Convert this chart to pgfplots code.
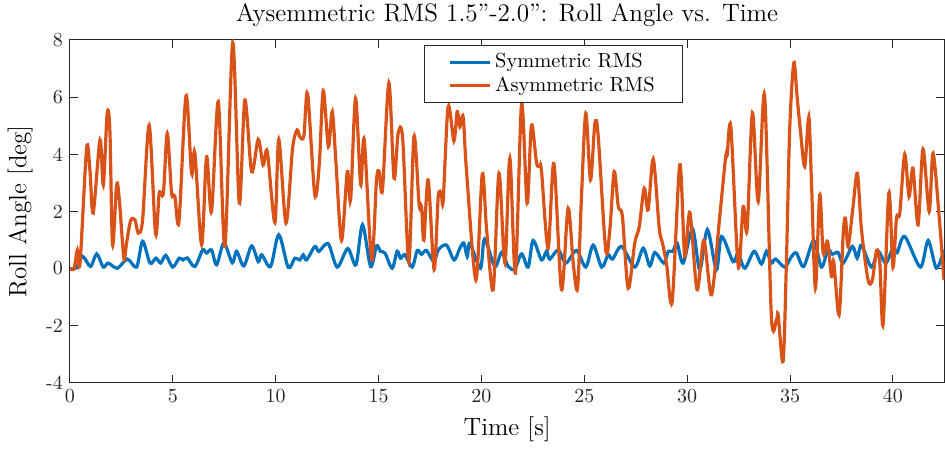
\documentclass[border=0pt]{standalone}
\usepackage{pgfplots}
\pgfplotsset{compat=1.18}
\usetikzlibrary{calc}

\definecolor{mblue}{rgb}{0,0.447,0.741}
\definecolor{morange}{rgb}{0.85,0.325,0.098}
\definecolor{axgray}{rgb}{0.15,0.15,0.15}

\begin{document}
\begin{tikzpicture}
\begin{axis}[
  scale only axis,
  width=437.5pt, height=171.5pt,
  xmin=0, xmax=42.5, ymin=-4, ymax=8,
  xtick={0,5,...,40},
  ytick={-4,-2,0,2,4,6,8},
  yticklabels={-4,-2,0,2,4,6,8},
  tick align=inside,
  major tick length=4pt,
  axis line style={axgray, line width=0.5pt},
  every tick/.style={axgray, line width=0.5pt},
  tick label style={font=\fontsize{10}{12}\selectfont, text=axgray},
  title={Aysemmetric RMS 1.5''-2.0'': Roll Angle vs. Time},
  title style={font=\fontsize{12.6}{14}\selectfont, yshift=-3pt},
  xlabel={Time [s]},
  ylabel={Roll Angle [deg]},
  label style={font=\fontsize{12.5}{14}\selectfont},
  legend cell align=left,
  legend style={at={(rel axis cs:0.4046,0.9854)}, anchor=north west,
    draw=axgray, line width=0.5pt, font=\fontsize{10.2}{12}\selectfont,
    inner xsep=12pt, inner ysep=2pt, row sep=-1pt},
  legend image code/.code={\draw[#1, line width=1.5pt] (0pt,0pt) -- (20pt,0pt);},
]
\addplot[mblue, line width=1.6pt, smooth, tension=0.5] coordinates {
(0,0) (0.3,0.02) (0.62,0.42) (1.0,0.07) (1.3,0.51) (1.62,0.05) (1.86,0.19)
(2.3,0.01) (2.79,0.33) (3.24,0.05) (3.53,0.95) (3.89,0.19) (4.18,0.36)
(4.41,0.19) (4.66,0.46) (4.99,0.05) (5.31,0.36) (5.5,0.3) (5.7,0.37)
(6.07,0.07) (6.45,0.65) (6.64,0.54) (6.88,0.65) (7.13,0.13) (7.48,0.89)
(7.89,0.2) (8.1,0.6) (8.45,0.09) (8.83,0.79) (9.15,0.24) (9.32,0.48)
(9.75,0.07) (10.15,1.18) (10.61,0.04) (10.93,0.36) (11.17,0.3) (11.34,0.48)
(11.5,0.3) (11.9,0.77) (12.1,0.6) (12.55,0.87) (12.99,0.05) (13.5,0.7)
(13.9,0.13) (14.22,1.53) (14.61,0.07) (14.9,0.79) (15.09,0.6) (15.31,0.54)
(15.66,0.01) (15.9,0.6) (16.07,0.36) (16.28,0.48) (16.63,0.05) (16.88,0.63)
(17.09,0.5) (17.33,0.63) (17.69,0.24) (17.9,0.65) (18.3,0.82) (18.67,0.3)
(18.95,0.71) (19.14,0.89) (19.31,0.42) (19.44,0.89) (19.95,0.01) (20.15,1.03)
(20.65,0.07) (20.98,0.56) (21.3,0.07) (21.62,-0.02) (21.95,0.51) (22.27,0.05)
(22.51,0.98) (22.92,0.3) (23.16,0.6) (23.32,0.33) (23.73,0.65) (24.1,0.19)
(24.62,0.63) (25.07,0.05) (25.43,0.82) (25.84,0.05) (26.16,0.48) (26.37,0.33)
(26.81,0.77) (27.45,0.05) (27.86,0.71) (28.18,0.09) (28.43,0.56) (28.86,0.19)
(29.08,0.6) (29.3,0.6) (29.51,0.89) (29.8,0.19) (30.26,1.38) (30.61,-0.04)
(30.98,1.36) (31.42,-0.04) (31.67,1.12) (32.23,0.24) (32.47,0.54) (32.8,0.01)
(33.25,0.6) (33.61,0.16) (33.85,0.6) (34.09,0.19) (34.3,0.33) (34.74,0.05)
(35.07,0.42) (35.31,0.54) (35.66,0.07) (36.15,0.98) (36.52,0.05) (36.84,0.65)
(37.05,0.5) (37.33,0.56) (37.58,0.19) (38.03,0.77) (38.26,0.36) (38.47,0.82)
(38.95,0.05) (39.28,0.6) (39.65,0.19) (40.0,0.71) (40.2,0.55) (40.57,1.12)
(41.33,0.05) (41.71,0.98) (42.11,0.01) (42.48,0.65)
};
\addlegendentry{Symmetric RMS}
\addplot[morange, line width=1.6pt, smooth, tension=0.5] coordinates {
(0,0) (0.2,0.0) (0.36,0.65) (0.49,0.19) (0.81,4.21) (0.97,3.45) (1.13,1.94)
(1.46,4.5) (1.62,2.93) (1.81,5.43) (1.94,4.85) (2.07,0.83) (2.27,2.93)
(2.40,2.4) (2.62,0.36) (2.75,0.89) (2.95,1.68) (3.16,1.7) (3.32,1.24)
(3.53,1.7) (3.85,5.02) (4.16,1.21) (4.34,2.64) (4.54,2.64) (4.73,4.73)
(4.94,2.64) (5.1,2.52) (5.3,1.65) (5.64,6.04) (5.91,3.33) (6.07,4.05)
(6.4,0.83) (6.64,3.91) (6.88,1.99) (7.21,5.84) (7.53,0.77) (7.91,7.9)
(8.23,2.29) (8.5,5.9) (8.83,3.39) (9.15,4.52) (9.39,3.62) (9.59,4.09)
(9.96,1.61) (10.15,4.52) (10.5,1.59) (10.82,4.21) (11.04,4.85) (11.17,4.61)
(11.37,4.64) (11.55,6.13) (11.9,2.58) (12.12,3.68) (12.31,6.23) (12.56,4.27)
(12.75,5.49) (12.93,3.68) (13.2,0.98) (13.48,3.39) (13.64,2.4) (13.88,5.96)
(14.13,2.93) (14.3,4.52) (14.66,0.3) (14.9,3.1) (15.03,3.39) (15.19,2.76)
(15.5,6.5) (15.75,3.16) (15.95,4.73) (16.17,4.56) (16.47,0.24) (16.72,4.62)
(16.97,2.23) (17.09,2.17) (17.2,0.99) (17.41,3.1) (17.7,-0.04) (17.9,2.52)
(18.05,2.6) (18.14,2.38) (18.38,5.67) (18.66,4.47) (18.82,5.49) (18.95,4.96)
(19.11,5.31) (19.27,3.45) (19.73,-0.4) (20.04,3.31) (20.25,1.36) (20.57,-0.74)
(20.85,3.33) (21.14,0.19) (21.38,3.86) (21.65,-0.16) (21.95,5.76) (22.22,2.29)
(22.43,5.02) (22.68,3.68) (22.84,3.59) (22.92,3.4) (23.24,0.71) (23.52,3.68)
(23.89,-0.74) (24.21,2.11) (24.46,0.19) (24.67,-0.69) (24.86,2.5) (25.07,5.43)
(25.3,3.1) (25.51,5.06) (25.67,4.67) (26.04,0.65) (26.24,1.36) (26.45,3.39)
(26.65,2.17) (26.85,1.82) (27.13,-0.69) (27.45,0.89) (27.67,1.47) (27.91,2.81)
(28.1,2.05) (28.35,3.83) (28.64,1.41) (28.8,0.89) (29.0,0.13) (29.27,-1.15)
(29.64,3.63) (29.88,0.42) (30.13,1.96) (30.48,-0.74) (30.81,0.99) (31.18,-0.92)
(31.58,1.82) (31.87,3.91) (31.94,3.95) (32.12,4.96) (32.48,0.07) (32.72,2.17)
(32.91,1.36) (33.17,5.45) (33.45,2.35) (33.76,6.06) (34.09,-1.67) (34.34,-1.8)
(34.42,-1.62) (34.66,-3.25) (34.82,0.19) (34.98,4.85) (35.18,7.2) (35.34,6.01)
(35.5,4.85) (35.71,3.57) (35.91,5.31) (36.04,3.0) (36.23,-0.69) (36.44,2.58)
(36.61,0.54) (36.82,0.95) (37.01,-0.28) (37.12,0.24) (37.38,-1.62) (37.58,1.2)
(37.69,1.76) (37.82,0.77) (38.06,2.17) (38.27,3.33) (38.47,1.36) (38.79,-0.4)
(39.0,-0.4) (39.2,0.63) (39.36,0.2) (39.52,-1.97) (39.8,2.64) (40.0,0.05)
(40.17,1.76) (40.33,1.94) (40.57,4.0) (40.78,2.52) (40.97,3.51) (41.22,1.53)
(41.46,4.18) (41.76,1.99) (41.95,4.03) (42.27,1.59) (42.48,-0.4)
};
\addlegendentry{Asymmetric RMS}
\end{axis}
\pgfresetboundingbox
\path ($(current axis.south west)+(-35pt,-33pt)$) rectangle ($(current axis.north east)+(0.3pt,20pt)$);
\end{tikzpicture}
\end{document}
